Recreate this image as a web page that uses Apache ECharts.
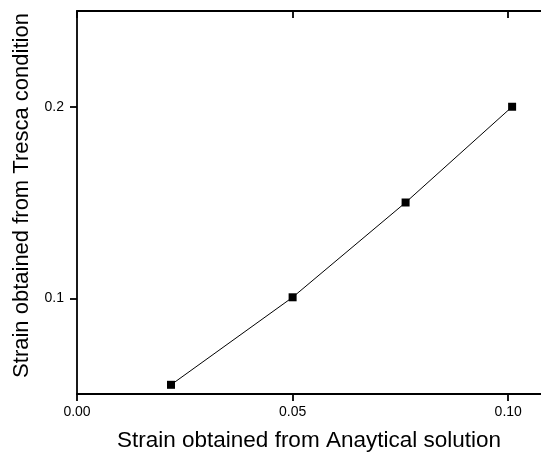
<!DOCTYPE html>
<html>
<head>
<meta charset="utf-8">
<script src="https://cdn.jsdelivr.net/npm/echarts@6/dist/echarts.min.js"></script>
<style>
  html, body { margin: 0; padding: 0; background: #fff; }
  #chart { width: 541px; height: 457px; }
</style>
</head>
<body>
<div id="chart"></div>
<script>
const xValues = [0.0218, 0.05, 0.0762, 0.1009];
const yValues = [0.0548, 0.1005, 0.15, 0.2];
const xTicks = [0, 0.05, 0.1];
const xTickLabels = ["0.00", "0.05", "0.10"];
const yTicks = [0.1, 0.2];
const yTickLabels = ["0.1", "0.2"];

const chart = echarts.init(document.getElementById("chart"));
const font = "Liberation Sans, Arial, sans-serif";
const lineStyle = { color: "#000", width: 1.8 };

chart.setOption({
  animation: false,
  grid: { left: 77, right: -3, top: 11, bottom: 62 },
  xAxis: [
    {
      type: "value",
      min: 0,
      max: 0.1076,
      name: "Strain obtained from Anaytical solution",
      nameLocation: "middle",
      nameGap: 35,
      nameTextStyle: { fontFamily: font, fontSize: 22.5, color: "#000" },
      axisLine: { lineStyle },
      axisTick: { show: true, length: 7, customValues: xTicks, lineStyle },
      axisLabel: {
        customValues: xTicks,
        margin: 11,
        fontFamily: font,
        fontSize: 14,
        color: "#000",
        formatter: (v) => {
          const i = xTicks.findIndex((t) => Math.abs(t - v) < 1e-9);
          return i >= 0 ? xTickLabels[i] : "";
        },
      },
      splitLine: { show: false },
    },
    {
      type: "value",
      position: "top",
      min: 0,
      max: 0.1076,
      axisLine: { lineStyle },
      axisTick: { show: true, inside: true, length: 7, customValues: xTicks, lineStyle },
      axisLabel: { show: false },
      splitLine: { show: false },
    },
  ],
  yAxis: {
    type: "value",
    min: 0.05,
    max: 0.25,
    name: "Strain obtained from Tresca condition",
    nameLocation: "middle",
    nameGap: 44,
    nameTextStyle: { fontFamily: font, fontSize: 22, color: "#000", padding: [0, 0, 0, 14] },
    axisLine: { lineStyle },
    axisTick: { show: true, length: 7, customValues: yTicks, lineStyle },
    axisLabel: {
      customValues: yTicks,
      margin: 13,
      fontFamily: font,
      fontSize: 14,
      color: "#000",
      formatter: (v) => {
        const i = yTicks.findIndex((t) => Math.abs(t - v) < 1e-9);
        return i >= 0 ? yTickLabels[i] : "";
      },
    },
    splitLine: { show: false },
  },
  series: [
    {
      type: "line",
      data: xValues.map((x, i) => [x, yValues[i]]),
      symbol: "rect",
      symbolSize: 8,
      itemStyle: { color: "#000" },
      lineStyle: { color: "#000", width: 1 },
    },
  ],
});
</script>
</body>
</html>
